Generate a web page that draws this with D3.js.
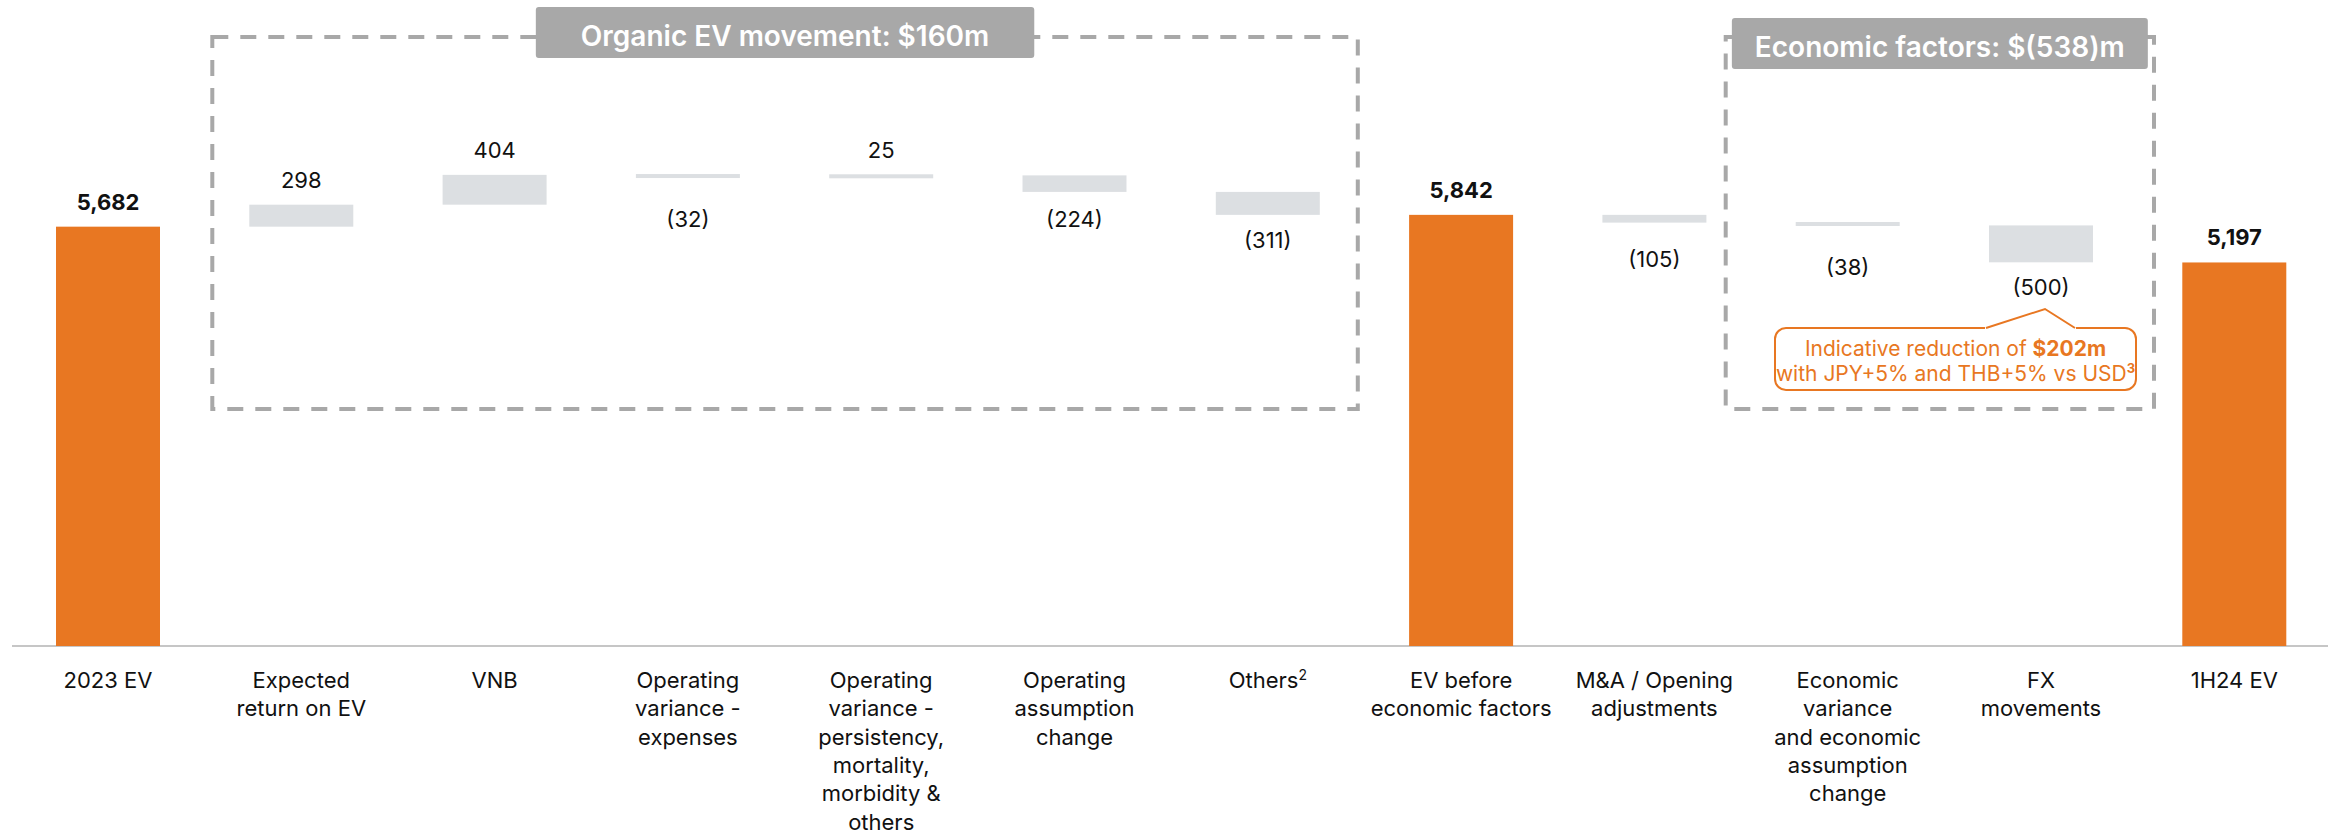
<!DOCTYPE html>
<html>
<head>
<meta charset="utf-8">
<script src="https://cdn.jsdelivr.net/npm/d3@7"></script>
<style>
  html, body { margin: 0; padding: 0; background: #fff; }
  svg { display: block; font-family: Inter, "Noto Sans", sans-serif; }
</style>
</head>
<body>
<svg id="chart" width="2328" height="834"></svg>
<script>
// ---------- data ----------
const categories = [
  "2023 EV",
  "Expected\nreturn on EV",
  "VNB",
  "Operating\nvariance -\nexpenses",
  "Operating\nvariance -\npersistency,\nmortality,\nmorbidity &\nothers",
  "Operating\nassumption\nchange",
  "Others²",
  "EV before\neconomic factors",
  "M&A / Opening\nadjustments",
  "Economic\nvariance\nand economic\nassumption\nchange",
  "FX\nmovements",
  "1H24 EV"
];
const values = [5682, 298, 404, -32, 25, -224, -311, 5842, -105, -38, -500, 5197];
const kinds = ["total", "delta", "delta", "delta", "delta", "delta", "delta", "total", "delta", "delta", "delta", "total"];
const valueLabels = ["5,682", "298", "404", "(32)", "25", "(224)", "(311)", "5,842", "(105)", "(38)", "(500)", "5,197"];
const groupTitles = ["Organic EV movement: $160m", "Economic factors: $(538)m"];
const groupRanges = [[1, 6], [9, 10]];
const noteLine1 = ["Indicative reduction of ", "$202m"];
const noteLine2 = ["with JPY+5% and THB+5% vs USD", "3"];

// ---------- layout ----------
const W = 2328, H = 834;
const ORANGE = "#e87722", GRAY_BAR = "#dcdfe2", DASH = "#a8a8a8", TEXT = "#111";
const svg = d3.select("#chart");

const x = d3.scaleBand()
  .domain(d3.range(categories.length))
  .range([11.35, 11.35 + 193.3 * categories.length])
  .paddingInner(0.462)
  .paddingOuter(0.231);

const y = d3.scaleLinear().domain([0, 5000]).range([646, 277]);

// running totals
let run = 0;
const rows = values.map((v, i) => {
  let start, end;
  if (kinds[i] === "total") { start = 0; end = v; run = v; }
  else { start = run; end = run + v; run = end; }
  return { i, v, start, end, kind: kinds[i], label: valueLabels[i], cat: categories[i] };
});

// ---------- group dashed boxes ----------
const groupLayout = [
  { padL: 37, padR: 38, titlePad: 45, titleTop: 7 },
  { padL: 70, padR: 61, titlePad: 23, titleTop: 18 }
];
const gGroups = svg.append("g");
groupRanges.forEach((r, gi) => {
  const L = groupLayout[gi];
  const x0 = x(r[0]) - L.padL;
  const x1 = x(r[1]) + x.bandwidth() + L.padR;
  gGroups.append("rect")
    .attr("x", x0).attr("y", 37)
    .attr("width", x1 - x0).attr("height", 409 - 37)
    .attr("fill", "none")
    .attr("stroke", DASH).attr("stroke-width", 4)
    .attr("stroke-dasharray", "16,12");
  const cx = (x0 + x1) / 2;
  const t = gGroups.append("text")
    .attr("x", cx).attr("y", L.titleTop + 39)
    .attr("text-anchor", "middle")
    .attr("fill", "#fff")
    .attr("font-size", 28).attr("font-weight", 600)
    .text(groupTitles[gi]);
  const tw = t.node().getComputedTextLength();
  gGroups.insert("rect", "text:last-of-type")
    .attr("x", cx - tw / 2 - L.titlePad).attr("y", L.titleTop)
    .attr("width", tw + 2 * L.titlePad).attr("height", 51)
    .attr("rx", 3)
    .attr("fill", DASH);
  t.raise();
});

// ---------- axis baseline ----------
svg.append("line")
  .attr("x1", 12).attr("x2", W)
  .attr("y1", y(0)).attr("y2", y(0))
  .attr("stroke", "#b3b3b3").attr("stroke-width", 1.5);

// ---------- bars ----------
const MIN_H = 4;
svg.append("g").selectAll("rect")
  .data(rows)
  .join("rect")
  .attr("x", d => x(d.i))
  .attr("width", x.bandwidth())
  .attr("y", d => {
    const top = y(Math.max(d.start, d.end)), bot = y(Math.min(d.start, d.end));
    const h = bot - top;
    return h < MIN_H ? (top + bot) / 2 - MIN_H / 2 : top;
  })
  .attr("height", d => Math.max(MIN_H, Math.abs(y(d.start) - y(d.end))))
  .attr("fill", d => d.kind === "total" ? ORANGE : GRAY_BAR);

// ---------- value labels ----------
svg.append("g").selectAll("text")
  .data(rows)
  .join("text")
  .attr("x", d => x(d.i) + x.bandwidth() / 2)
  .attr("y", d => {
    const top = y(Math.max(d.start, d.end)), bot = y(Math.min(d.start, d.end));
    return d.v >= 0 ? top - 17 : Math.max(bot + 33, top + 52);
  })
  .attr("text-anchor", "middle")
  .attr("font-size", 22)
  .attr("font-weight", d => d.kind === "total" ? 700 : 400)
  .attr("fill", TEXT)
  .text(d => d.label);

// ---------- category labels ----------
const gCat = svg.append("g");
rows.forEach(d => {
  const t = gCat.append("text")
    .attr("x", x(d.i) + x.bandwidth() / 2)
    .attr("y", 688)
    .attr("text-anchor", "middle")
    .attr("font-size", 22)
    .attr("fill", TEXT);
  d.cat.split("\n").forEach((line, li) => {
    const sup = line.match(/[²³]/);
    const base = line.replace(/[²³]/g, "");
    t.append("tspan")
      .attr("x", x(d.i) + x.bandwidth() / 2)
      .attr("dy", li === 0 ? 0 : 28.3)
      .text(base);
    if (sup) {
      t.append("tspan").attr("font-size", 14).attr("dy", -8)
        .text(sup[0] === "²" ? "2" : "3");
    }
  });
});

// ---------- annotation callout ----------
const fxIdx = 10;
const apexX = x(fxIdx) + x.bandwidth() / 2 + 4;
const bx0 = 1775, bx1 = 2136, by0 = 328, by1 = 390;
const gNote = svg.append("g");
gNote.append("rect")
  .attr("x", bx0).attr("y", by0)
  .attr("width", bx1 - bx0).attr("height", by1 - by0)
  .attr("rx", 11)
  .attr("fill", "#fff")
  .attr("stroke", ORANGE).attr("stroke-width", 2);
gNote.append("path")
  .attr("d", `M${apexX - 59},${by0} L${apexX},309 L${apexX + 30},${by0} Z`)
  .attr("fill", "#fff").attr("stroke", "none");
gNote.append("line")
  .attr("x1", apexX - 60).attr("x2", apexX + 31)
  .attr("y1", by0).attr("y2", by0)
  .attr("stroke", "#fff").attr("stroke-width", 3);
gNote.append("path")
  .attr("d", `M${apexX - 59},${by0} L${apexX},309 L${apexX + 30},${by0}`)
  .attr("fill", "none").attr("stroke", ORANGE).attr("stroke-width", 2)
  .attr("stroke-linejoin", "miter");
const ncx = (bx0 + bx1) / 2;
const n1 = gNote.append("text").attr("x", ncx).attr("y", 356)
  .attr("text-anchor", "middle").attr("font-size", 21).attr("fill", ORANGE);
n1.append("tspan").text(noteLine1[0]);
n1.append("tspan").attr("font-weight", 700).text(noteLine1[1]);
const n2 = gNote.append("text").attr("x", ncx).attr("y", 381)
  .attr("text-anchor", "middle").attr("font-size", 21).attr("fill", ORANGE);
n2.append("tspan").text(noteLine2[0]);
n2.append("tspan").attr("font-size", 13).attr("font-weight", 700).attr("dy", -8).text(noteLine2[1]);
</script>
</body>
</html>
